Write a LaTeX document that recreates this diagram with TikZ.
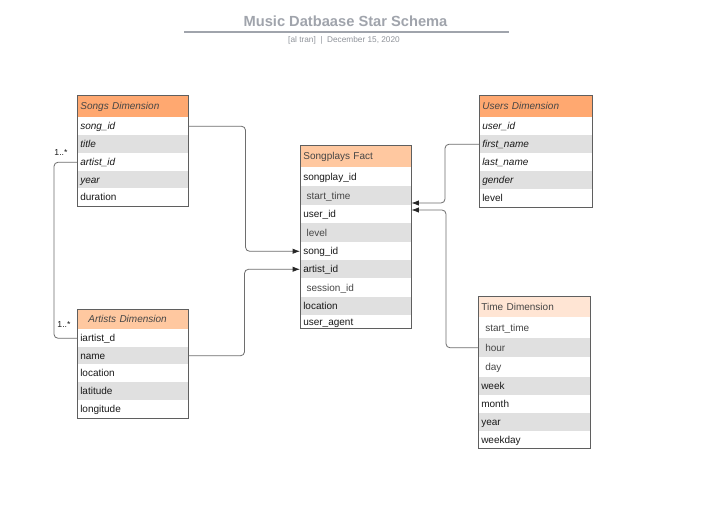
\documentclass[tikz,border=0pt]{standalone}
\usepackage{fontspec}
\setmainfont{Liberation Sans}
\usetikzlibrary{arrows.meta,calc}
\definecolor{hdrA}{RGB}{255,168,112}
\definecolor{hdrB}{RGB}{255,200,160}
\definecolor{hdrC}{RGB}{255,229,212}
\definecolor{rowg}{RGB}{224,224,224}
\definecolor{bord}{RGB}{95,95,95}
\definecolor{linec}{RGB}{110,110,110}
\definecolor{titlec}{RGB}{160,164,172}
\definecolor{txtc}{RGB}{25,25,25}
\definecolor{txtl}{RGB}{70,70,70}
\tikzset{
  rowbox/.style={anchor=north west, inner xsep=2.25pt, inner ysep=0pt, align=left,
    font=\fontsize{7.5}{9}\selectfont, text=txtc, text height=6.8pt, text depth=1.6pt},
  hdrbox/.style={rowbox, draw=bord, line width=0.6pt, text=txtl},
  conn/.style={draw=linec, line width=0.6pt, rounded corners=3pt},
  arr/.style={conn, -{Latex[length=5.5pt,width=4pt,color=black!85]}},
  mult/.style={font=\fontsize{6.5}{8}\selectfont, text=txtc, inner sep=0pt},
  tableframe/.style={draw=bord, line width=0.6pt}
}
\newcommand\erow[8]{% name, x, ytop, ybot, width, fill, text, style
  \pgfmathsetmacro\rh{(#4-#3)*0.75}%
  \pgfmathsetmacro\rw{#5*0.75}%
  \pgfmathsetmacro\tw{(#5-6)*0.75}%
  \node[#8, fill=#6, minimum width=\rw pt, minimum height=\rh pt, text width=\tw pt] (#1) at (#2,#3) {#7};}
\begin{document}
\begin{tikzpicture}[x=0.75pt,y=-0.75pt]
\useasboundingbox[fill=white] (0,0) rectangle (718,506);

% title
\node[font=\bfseries\fontsize{11}{13}\selectfont, text=titlec, inner sep=0pt] (title) at (345.5,21) {Music Datbaase Star Schema};
\draw[titlec, line width=0.8pt] (184,32) -- (509,32);
\node[font=\fontsize{6.2}{7.5}\selectfont, text=titlec!90!black, inner sep=0pt] (subtitle) at (344,40.5) {[al tran]\ \ |\ \ December 15, 2020};

% Songs Dimension
\erow{songs-h}{77}{95}{117}{111}{hdrA}{\textit{Songs Dimension}}{hdrbox}
\erow{songs-r1}{77}{117}{135}{111}{white}{\textit{song\_id}}{rowbox}
\erow{songs-r2}{77}{135}{153}{111}{rowg}{\textit{title}}{rowbox}
\erow{songs-r3}{77}{153}{171}{111}{white}{\textit{artist\_id}}{rowbox}
\erow{songs-r4}{77}{171}{188}{111}{rowg}{\textit{year}}{rowbox}
\erow{songs-r5}{77}{188}{206}{111}{white}{duration}{rowbox}
\draw[tableframe] (songs-h.north west) rectangle (songs-r5.south east);

% Artists Dimension
\erow{artists-h}{77}{309}{329}{111}{hdrB}{\hspace*{6pt}\textit{Artists Dimension}}{hdrbox}
\erow{artists-r1}{77}{329}{347}{111}{white}{iartist\_d}{rowbox}
\erow{artists-r2}{77}{347}{364}{111}{rowg}{name}{rowbox}
\erow{artists-r3}{77}{364}{382}{111}{white}{location}{rowbox}
\erow{artists-r4}{77}{382}{400}{111}{rowg}{latitude}{rowbox}
\erow{artists-r5}{77}{400}{418}{111}{white}{longitude}{rowbox}
\draw[tableframe] (artists-h.north west) rectangle (artists-r5.south east);

% Songplays Fact
\erow{fact-h}{300}{145}{167}{111}{hdrB}{Songplays Fact}{hdrbox}
\erow{fact-r1}{300}{167}{186}{111}{white}{songplay\_id}{rowbox}
\erow{fact-r2}{300}{186}{205}{111}{rowg}{\hspace*{2.5pt}\textcolor{txtl}{start\_time}}{rowbox}
\erow{fact-r3}{300}{205}{223}{111}{white}{user\_id}{rowbox}
\erow{fact-r4}{300}{223}{242}{111}{rowg}{\hspace*{2.5pt}\textcolor{txtl}{level}}{rowbox}
\erow{fact-r5}{300}{242}{260}{111}{white}{song\_id}{rowbox}
\erow{fact-r6}{300}{260}{278}{111}{rowg}{artist\_id}{rowbox}
\erow{fact-r7}{300}{278}{297}{111}{white}{\hspace*{2.5pt}\textcolor{txtl}{session\_id}}{rowbox}
\erow{fact-r8}{300}{297}{315}{111}{rowg}{location}{rowbox}
\erow{fact-r9}{300}{315}{328}{111}{white}{user\_agent}{rowbox}
\draw[tableframe] (fact-h.north west) rectangle (fact-r9.south east);

% Users Dimension
\erow{users-h}{479}{95}{117}{113}{hdrA}{\textit{Users Dimension}}{hdrbox}
\erow{users-r1}{479}{117}{135}{113}{white}{\textit{user\_id}}{rowbox}
\erow{users-r2}{479}{135}{153}{113}{rowg}{\textit{first\_name}}{rowbox}
\erow{users-r3}{479}{153}{171}{113}{white}{\textit{last\_name}}{rowbox}
\erow{users-r4}{479}{171}{189}{113}{rowg}{\textit{gender}}{rowbox}
\erow{users-r5}{479}{189}{207}{113}{white}{level}{rowbox}
\draw[tableframe] (users-h.north west) rectangle (users-r5.south east);

% Time Dimension
\erow{time-h}{478}{296}{317}{112}{hdrC}{Time Dimension}{hdrbox}
\erow{time-r1}{478}{317}{338}{112}{white}{\hspace*{3pt}\textcolor{txtl}{start\_time}}{rowbox}
\erow{time-r2}{478}{338}{357}{112}{rowg}{\hspace*{3pt}\textcolor{txtl}{hour}}{rowbox}
\erow{time-r3}{478}{357}{377}{112}{white}{\hspace*{3pt}\textcolor{txtl}{day}}{rowbox}
\erow{time-r4}{478}{377}{395}{112}{rowg}{week}{rowbox}
\erow{time-r5}{478}{395}{413}{112}{white}{month}{rowbox}
\erow{time-r6}{478}{413}{431}{112}{rowg}{year}{rowbox}
\erow{time-r7}{478}{431}{448}{112}{white}{weekday}{rowbox}
\draw[tableframe] (time-h.north west) rectangle (time-r7.south east);

% connectors
\draw[arr] (songs-r1.east) -- ++(57,0) |- (fact-r5.west);
\draw[arr] (artists-r2.east) -- ++(56,0) |- (fact-r6.west);
\draw[conn] (songs-r3.west) -- ++(-23,0) |- (artists-r1.west);
\draw[arr] (users-r2.west) -- ++(-34,0) |- ([yshift=1.5pt]fact-r3.north east);
\draw[arr] (time-r2.west) -- ++(-32,0) |- ([yshift=-3.75pt]fact-r3.north east);

% multiplicities
\node[mult] (m1) at (61,153) {1..*};
\node[mult] (m2) at (64,325) {1..*};
\end{tikzpicture}
\end{document}
